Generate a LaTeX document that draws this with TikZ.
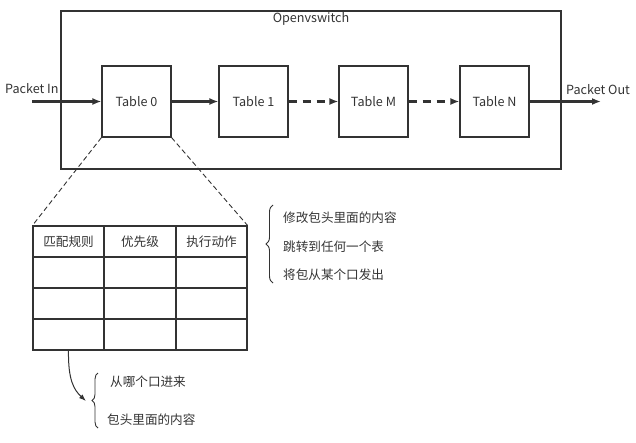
\documentclass[tikz,border=0pt]{standalone}
\usepackage{fontspec}
\setmainfont{Noto Sans CJK SC}
\usetikzlibrary{arrows.meta,decorations.pathreplacing}
\definecolor{ln}{HTML}{333333}
\definecolor{tx}{HTML}{333333}
\begin{document}
\begin{tikzpicture}[x=1pt,y=-1pt,
  every node/.style={font=\fontsize{12.6}{14}\selectfont, text=tx},
  tbl/.style={draw=ln, line width=1.1pt, minimum width=69pt, minimum height=71pt, inner sep=0pt},
  cell/.style={draw=ln, line width=1.1pt, minimum height=31pt, inner sep=0pt},
  flow/.style={draw=ln, line width=2.2pt, -{Latex[length=9pt,width=7pt]}},
  flowd/.style={flow, dash pattern=on 8pt off 6pt},
  lbl/.style={anchor=west, inner sep=0pt},
  brc/.style={draw=ln, line width=0.9pt, decorate, decoration={brace, amplitude=7pt}}
]
\useasboundingbox (0,0) rectangle (636,442);
% outer box
\node[draw=ln, line width=1.1pt, minimum width=500pt, minimum height=158pt, inner sep=0pt] (ovs) at (311,90) {};
\node (ovst) at (311,19) {Openvswitch};
% tables
\node[tbl] (t0) at (136.5,101.5) {Table 0};
\node[tbl] (t1) at (253.5,101.5) {Table 1};
\node[tbl] (tm) at (373.5,101.5) {Table M};
\node[tbl] (tn) at (494.5,101.5) {Table N};
\coordinate (pin) at (32,101.5);
\coordinate (pout) at (601,101.5);
\node[lbl] (pinl) at (5,89) {Packet In};
\node[lbl] (poutl) at (566,90) {Packet Out};
\draw[flow] (pin) -- (t0.west);
\draw[flow] (t0.east) -- (t1.west);
\draw[flowd] (t1.east) -- (tm.west);
\draw[flowd] (tm.east) -- (tn.west);
\draw[flow] (tn.east) -- (pout);
% flow table
\foreach \r/\y in {0/241.5,1/272.5,2/303.5,3/334.5}{
  \node[cell, minimum width=71pt] (c\r a) at (68.5,\y) {};
  \node[cell, minimum width=72pt] (c\r b) at (140,\y) {};
  \node[cell, minimum width=71pt] (c\r c) at (211.5,\y) {};
}
\node (h1) at (c0a) {匹配规则};
\node (h2) at (c0b) {优先级};
\node (h3) at (c0c) {执行动作};
\draw[ln, line width=0.9pt, dash pattern=on 5pt off 3pt] (t0.south west) -- (c0a.north west);
\draw[ln, line width=0.9pt, dash pattern=on 5pt off 3pt] (t0.south east) -- (c0c.north east);
% right brace
\coordinate (rb1) at (273,283);
\coordinate (rb2) at (273,205);
\draw[brc] (rb1) -- (rb2);
\node[lbl] (a1) at (283,218) {修改包头里面的内容};
\node[lbl] (a2) at (283,247) {跳转到任何一个表};
\node[lbl] (a3) at (283,275) {将包从某个口发出};
% bottom
\coordinate (bb1) at (98,428);
\coordinate (bb2) at (98,373);
\draw[brc, decoration={brace, amplitude=6pt}] (bb1) -- (bb2);
\coordinate (arr) at (86,401);
\draw[ln, line width=1pt, -{Latex[length=7pt,width=5pt]}] (c3a.south) .. controls (68,380) and (74,390) .. (arr);
\node[lbl] (b1) at (110,382) {从哪个口进来};
\node[lbl] (b2) at (107,420) {包头里面的内容};
\end{tikzpicture}
\end{document}
